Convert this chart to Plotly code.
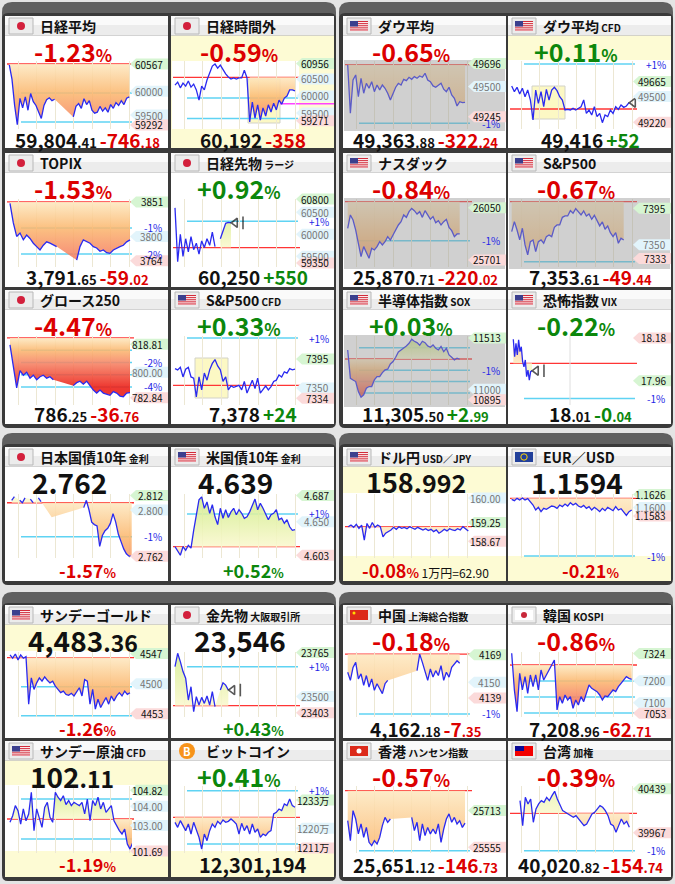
import plotly.graph_objects as go

W, H = 675, 884
FONT = "Noto Sans CJK JP"
RED = "#dc0000"
GREEN = "#0c870c"
LINE = "#2a2af0"

# ---------- intraday series: one value per time slot, None = no trading ----------
nikkei_avg = [60550, 60250, 59700, 59300, 59850, 59650, 59880, 59600, 59950, 59780, 59700, 59560, 59430, 59700,
              59820, 59860, 59800, 59830, None, None, None, None, None, None, 59460, 59680, 59740, 59640, 59840,
              59720, 59800, 59600, 59540, 59560, 59680, 59580, 59650, 59560, 59720, 59640, 59760, 59700, 59800,
              59720, 59850, 59880]
nikkei_night = [60320, 60410, 60240, 60380, 60290, 60440, 60260, 60350, 60180, 59880, 60290, 60180, 60470, 60710,
                60880, 60940, 60820, 60910, 60760, 60650, 60560, 60500, 60530, 60500, 60530, 60530, 60760, 60530,
                59240, 59820, 59350, 59740, 59290, 59650, 59410, 59740, 59530, 59790, 59590, 59880, 59760, 59940,
                60000, 60180, 60180, 60150]
topix = [3849, 3820, 3800, 3805, 3795, 3802, 3797, 3790, 3785, 3780, 3787, 3792, 3790, 3787, 3785, None, None, None,
         None, None, 3765, 3785, 3795, 3792, 3790, 3785, 3783, 3778, 3780, 3776, 3775, 3780, 3783, 3785, 3787, 3792,
         3795]
nikkei_fut = [60600, 59380, 60000, 59500, 59900, 59600, 59950, 59650, 59800, 59550, 59850, 59700, 59900, 59750,
              60050, 59720, None, 59900, 60100, 60250, 60270, 60260]
growth250 = [818.3, 805, 789.5, 801, 798, 800, 796, 798, 795, 797, 798, 796, 797, 795, None, None, None, None, None,
             791, 793, 794, 792, 794, 791, 788, 786, 788, 786, 785, 784.5, 787, 786, 784, 783.5, 786, 786.25]
sp500_cfd = [7380, 7378, 7382, 7367, 7379, 7382, 7367, 7365, 7336, 7367, 7347, 7373, 7362, 7378, 7388, 7394, 7384,
             7378, 7360, 7367, 7347, 7353, 7351, 7352, 7354, 7347, 7360, 7342, 7352, 7362, 7349, 7365, 7342, 7347,
             7353, 7347, 7352, 7360, 7362, 7370, 7367, 7375, 7373, 7380, 7378, 7379]
dow = [49683, 49274, 49556, 49599, 49415, 49571, 49444, 49528, 49486, 49542, 49457, 49514, 49472, 49514, 49486,
       49444, 49387, 49444, 49495, 49528, 49514, 49562, 49551, 49579, 49562, 49585, 49571, 49590, 49579, 49613,
       49556, 49542, 49506, 49495, 49514, 49528, 49478, 49457, 49495, 49429, 49401, 49336, 49372, 49364, 49367]
dow_cfd = [49616, 49554, 49602, 49528, 49591, 49499, 49572, 49463, 49243, 49572, 49426, 49554, 49389, 49580, 49463,
           49572, 49602, 49565, 49499, 49463, 49353, 49360, 49353, 49371, 49353, 49367, 49389, 49463, 49316, 49353,
           49298, 49389, 49280, 49316, 49214, 49298, 49280, 49353, 49316, 49389, 49360, 49408, 49382, 49397, 49433]
nasdaq = [25912, 26002, 25968, 25901, 25812, 25723, 25790, 25756, 25712, 25779, 25768, 25790, 25823, 25801, 25823,
          25857, 25834, 25868, 25901, 25935, 25957, 26002, 25986, 26024, 26046, 26031, 26008, 26024, 25986, 26031,
          26002, 25973, 25991, 25950, 25964, 25935, 25957, 25973, 25919, 25897, 25857, 25875, 25875]
sp500 = [7366.1, 7378.4, 7368.1, 7355.8, 7370.2, 7349.6, 7337.3, 7353.7, 7355.8, 7341.4, 7353.7, 7355.8, 7351.7,
         7359.9, 7362.0, 7359.9, 7371.4, 7374.3, 7374.3, 7383.7, 7385.4, 7385.4, 7392.0, 7388.7, 7394.4, 7391.1,
         7386.6, 7391.6, 7385.4, 7387.9, 7381.3, 7386.2, 7378.8, 7373.1, 7378.0, 7369.0, 7373.1, 7364.8, 7359.9,
         7364.8, 7351.7, 7357.9, 7355.8]
sox = [11393, 11110, 11093, 11077, 10977, 10920, 10944, 11010, 11027, 11027, 11093, 11127, 11127, 11167, 11193,
       11200, 11253, 11277, 11320, 11373, 11393, 11410, 11433, 11460, 11500, 11480, 11466, 11440, 11480, 11466,
       11433, 11420, 11443, 11410, 11393, 11427, 11377, 11410, 11343, 11320, 11293, 11310, 11300]
vix = [18.173, 18.084, 18.152, 18.093, 18.17, 18.11, 18.135, 18.058, 18.032, 18.067, 17.981, 18.015, 17.964, 18.007,
       18.012]
jgb10 = [2.808, 2.811, None, 2.808, 2.806, 2.810, None, 2.809, 2.806, None, 2.810, 2.807, None, None, None, 2.794,
         None, None, None, None, None, None, None, None, None, None, None, 2.802, 2.808, 2.800, 2.790, 2.788, 2.787,
         2.770, 2.779, 2.783, 2.785, 2.789, 2.797, 2.790, 2.780, 2.774, 2.768, 2.764, 2.762, 2.762]
ust10 = [4.615, 4.609, 4.603, 4.615, 4.610, 4.617, 4.613, 4.638, 4.662, 4.681, 4.685, 4.669, 4.678, 4.662, 4.674,
         4.657, 4.646, 4.669, 4.655, 4.667, 4.656, 4.664, 4.669, 4.660, 4.667, 4.662, 4.655, 4.657, 4.664, 4.674,
         4.682, 4.667, 4.676, 4.669, 4.662, 4.653, 4.660, 4.662, 4.667, 4.653, 4.655, 4.648, 4.653, 4.643, 4.638,
         4.639]
usdjpy = [159.12, 159.17, 159.10, 159.19, 159.07, 159.17, 158.71, 159.22, 159.07, 159.25, 159.10, 159.17, 159.12,
          158.81, 158.92, 158.97, 159.02, 159.10, 159.04, 159.12, 159.07, 159.10, 159.06, 159.12, 159.08, 159.04,
          159.10, 159.06, 159.02, 159.06, 159.00, 159.04, 158.97, 159.02, 158.92, 158.97, 159.04, 158.99, 159.06,
          159.02, 159.00, 159.06, 159.02, 159.12, 159.04, 158.99]
eurusd = [1.16163, 1.16136, 1.16183, 1.16150, 1.16190, 1.16150, 1.16177, 1.16116, 1.16049, 1.15948, 1.16002,
          1.15915, 1.15982, 1.15962, 1.16002, 1.16029, 1.16016, 1.15982, 1.16049, 1.16016, 1.16069, 1.16029,
          1.16096, 1.16049, 1.16083, 1.16029, 1.16002, 1.16042, 1.15982, 1.16016, 1.15948, 1.16002, 1.15962,
          1.15915, 1.15982, 1.15935, 1.16002, 1.15962, 1.15935, 1.16016, 1.15948, 1.15975, 1.15895, 1.15841,
          1.15915, 1.15948]
gold_sun = [4544.7, 4539.6, 4546.2, 4537.0, 4544.7, 4539.6, 4542.1, 4468.0, 4508.9, 4491.0, 4501.2, 4508.9, 4503.8,
            4510.4, 4505.3, 4501.2, 4503.8, 4496.1, 4491.0, 4485.9, 4488.4, 4483.3, 4481.8, 4484.9, 4480.8, 4486.9,
            4493.6, 4480.8, 4506.3, 4503.8, 4468.0, 4491.0, 4460.3, 4475.7, 4462.9, 4470.6, 4478.2, 4468.0, 4480.8,
            4473.1, 4480.8, 4485.9, 4480.8, 4488.4, 4483.3, 4485.9]
gold_fut = [23680, 23760, 23710, 23650, 23610, 23479, 23559, 23409, 23499, 23449, 23495, 23459, 23503, 23449, 23529,
            23439, None, 23539, 23583, 23569, 23539]
shanghai = [4156.9, 4151.2, 4160.3, 4163.8, 4152.3, 4155.8, 4147.7, 4154.6, 4146.6, 4152.3, 4144.3, 4148.9, 4145.4,
            4142.0, 4148.9, 4151.2, None, None, None, None, None, None, None, None, None, None, 4158.0, 4169.5,
            4163.8, 4158.0, 4151.2, 4159.2, 4153.5, 4158.0, 4154.6, 4161.5, 4151.2, 4156.9, 4153.5, 4160.3, 4162.6,
            4164.9, 4163.1]
kospi = [7324.7, 7158.3, 7060.0, 7234.0, 7158.3, 7218.8, 7143.2, 7226.4, 7173.4, 7226.4, 7158.3, 7249.1, 7203.7,
         7226.4, 7249.1, 7271.8, 7294.5, 7067.5, 7128.0, 7097.8, 7135.6, 7112.9, 7128.0, 7075.1, 7112.9, 7090.2,
         7128.0, 7105.3, 7143.2, 7181.0, 7165.9, 7158.3, 7150.7, 7135.6, 7112.9, 7131.1, 7128.0, 7143.2, 7158.3,
         7150.7, 7173.4, 7188.6, 7203.7, 7218.8, 7211.2, 7206.7]
oil_sun = [103.17, 103.51, 104.03, 103.77, 103.08, 103.86, 103.25, 103.60, 104.72, 102.74, 103.86, 103.43, 102.91,
           103.94, 104.20, 103.43, 103.17, 104.72, 104.46, 104.29, 104.54, 104.08, 104.29, 104.03, 104.20, 104.11,
           104.03, 104.20, 103.60, 104.37, 103.25, 104.29, 104.03, 104.46, 103.86, 104.20, 103.68, 103.86, 104.03,
           103.25, 103.00, 102.74, 102.57, 102.82, 102.05, 101.79, 102.12]
bitcoin_man = [1222.78, 1220.48, 1223.55, 1221.25, 1218.95, 1222.01, 1217.41, 1222.78, 1218.95, 1215.88, 1210.50,
               1217.41, 1214.34, 1218.95, 1222.01, 1220.48, 1223.24, 1222.01, 1223.86, 1222.78, 1223.24, 1224.32,
               1223.24, 1222.01, 1217.41, 1222.32, 1218.95, 1221.25, 1217.41, 1222.01, 1218.18, 1219.71, 1215.88,
               1217.41, 1216.64, 1218.18, 1218.95, 1226.62, 1227.39, 1228.92, 1228.16, 1231.22, 1230.46, 1233.53,
               1230.46, 1229.69]
hangseng = [25669, 25583, 25712, 25676, 25612, 25655, 25597, 25640, 25576, 25562, 25583, 25569, 25597, 25648, 25683,
            25662, 25676, None, None, None, None, None, None, None, 25683, 25626, 25662, 25583, 25655, 25605, 25640,
            25612, 25633, 25612, 25655, 25576, 25633, 25676, 25698, 25662, 25683, 25655, 25669, 25640, 25658]
taiex = [40311, 40043, 40347, 40276, 40329, 40079, 40222, 40276, 40311, 40293, 40347, 40311, 40365, 40412, 40329,
         40258, 40204, 40186, 40168, 40150, 40132, 40150, 40114, 40089, 40043, 40061, 40114, 40168, 40186, 40222,
         40258, 40240, 40204, 40150, 40061, 40043, 39971, 40043, 40114, 40061, 40089, 40025]

# ---------- price tags on the right edge: (text, value, kind) ----------
nikkei_avg_lbl = [("60567", 60567, "hi"), ("60000", 60000, "tick"), ("59500", 59500, "tick"), ("59292", 59292, "lo")]
nikkei_night_lbl = [("60956", 60956, "hi"), ("60500", 60500, "tick"), ("60000", 60000, "tick"),
                    ("59500", 59500, "tick"), ("59271", 59271, "lo")]
topix_lbl = [("3851", 3851, "hi"), ("-1%", 3812.5, "pct"), ("3800", 3800, "tick"), ("-2%", 3774, "pct"),
             ("3764", 3764, "lo")]
nikkei_fut_lbl = [("60800", 60800, "hi"), ("60500", 60500, "tick"), ("+1%", 60297, "pct"), ("60000", 60000, "tick"),
                  ("59500", 59500, "tick"), ("59350", 59350, "lo")]
growth_lbl = [("818.81", 818.81, "hi"), ("-2%", 806.55, "pct"), ("800.00", 800, "tick"), ("-4%", 790.09, "pct"),
              ("782.84", 782.84, "lo")]
sp500_cfd_lbl = [("+1%", 7427.5, "pct"), ("7395", 7395, "hi"), ("7350", 7350, "tick"), ("7334", 7334, "lo")]
dow_lbl = [("49696", 49696, "hi"), ("49500", 49500, "tick"), ("49245", 49245, "lo"), ("-1%", 49189, "pct")]
dow_cfd_lbl = [("+1%", 49857.6, "pct"), ("49665", 49665, "hi"), ("49500", 49500, "tick"), ("49220", 49220, "lo")]
nasdaq_lbl = [("26050", 26050, "hi"), ("-1%", 25829.8, "pct"), ("25701", 25701, "lo")]
sp500_lbl = [("7395", 7395, "hi"), ("7350", 7350, "tick"), ("7333", 7333, "lo")]
sox_lbl = [("11513", 11513, "hi"), ("-1%", 11189.5, "pct"), ("11000", 11000, "tick"), ("10895", 10895, "lo")]
vix_lbl = [("18.18", 18.18, "lo"), ("17.96", 17.96, "hi"), ("-1%", 17.87, "pct")]
jgb_lbl = [("2.812", 2.812, "hi"), ("2.800", 2.800, "tick"), ("-1%", 2.778, "pct"), ("2.762", 2.762, "lo")]
ust_lbl = [("4.687", 4.687, "hi"), ("+1%", 4.661, "pct"), ("4.650", 4.650, "tick"), ("4.603", 4.603, "lo")]
usdjpy_lbl = [("160.00", 160.0, "tick"), ("159.25", 159.25, "hi"), ("158.67", 158.67, "lo")]
eurusd_lbl = [("1.1626", 1.1626, "hi"), ("1.1600", 1.1600, "tick"), ("1.1583", 1.1583, "lo"), ("-1%", 1.1502, "pct")]
gold_sun_lbl = [("4547", 4547, "hi"), ("4500", 4500, "tick"), ("4453", 4453, "lo")]
gold_fut_lbl = [("23765", 23765, "hi"), ("+1%", 23679.5, "pct"), ("23500", 23500, "tick"), ("23403", 23403, "lo")]
shanghai_lbl = [("4169", 4169, "hi"), ("4150", 4150, "tick"), ("4139", 4139, "lo"), ("-1%", 4127.8, "pct")]
kospi_lbl = [("7324", 7324, "hi"), ("7200", 7200, "tick"), ("7100", 7100, "tick"), ("7053", 7053, "lo")]
oil_sun_lbl = [("104.82", 104.82, "hi"), ("104.00", 104.0, "tick"), ("103.00", 103.0, "tick"),
               ("101.69", 101.69, "lo")]
bitcoin_lbl = [("+1%", 1237.4, "pct"), ("1233万", 1233, "hi"), ("1220万", 1220, "tick"), ("1211万", 1211, "lo")]
hangseng_lbl = [("25713", 25713, "hi"), ("25555", 25555, "lo")]
taiex_lbl = [("40439", 40439, "hi"), ("39967", 39967, "lo"), ("-1%", 39773.8, "pct")]

# ---------- page geometry (pixels) ----------
COLS = [5, 171, 343, 508]
ROW_TOP = [16, 153, 290, 447, 605, 741]
ROW_BOT = [148, 287, 424, 581, 738, 877]
CHART_Y = [(61, 129), (199, 267), (336, 405), (494, 558), (652, 717), (786, 853)]
PW = 163
YELLOW = "#fdfbd4"
TAG = {"hi": "#d6f5d2", "lo": "#fbdada", "tick": "#e2f4fb"}

FILL_SCALE = [
    [0.0, "rgba(236,34,26,0.9)"],
    [0.25, "rgba(246,134,102,0.88)"],
    [0.375, "rgba(251,184,112,0.88)"],
    [0.499, "rgba(253,232,192,0.88)"],
    [0.501, "rgba(250,248,206,0.88)"],
    [0.625, "rgba(222,240,160,0.88)"],
    [1.0, "rgba(150,205,70,0.9)"],
]


def X(px):
    return px / W


def Y(py):
    return 1 - py / H


shapes = []
annos = []


def box(x0, y0, x1, y1, fill, line=None, layer="below"):
    shapes.append(dict(type="rect", xref="paper", yref="paper", x0=X(x0), x1=X(x1), y0=Y(y1), y1=Y(y0),
                       fillcolor=fill, line=dict(color=line or fill, width=1 if line else 0), layer=layer))


def disc(cx, cy, r, fill, line=None, layer="below"):
    shapes.append(dict(type="circle", xref="paper", yref="paper", x0=X(cx - r), x1=X(cx + r), y0=Y(cy + r),
                       y1=Y(cy - r), fillcolor=fill, line=dict(color=line or fill, width=1 if line else 0),
                       layer=layer))


def rounded(x0, y0, x1, y1, r, fill):
    path = (f"M{X(x0 + r)},{Y(y0)} L{X(x1 - r)},{Y(y0)} Q{X(x1)},{Y(y0)} {X(x1)},{Y(y0 + r)} "
            f"L{X(x1)},{Y(y1 - r)} Q{X(x1)},{Y(y1)} {X(x1 - r)},{Y(y1)} L{X(x0 + r)},{Y(y1)} "
            f"Q{X(x0)},{Y(y1)} {X(x0)},{Y(y1 - r)} L{X(x0)},{Y(y0 + r)} Q{X(x0)},{Y(y0)} {X(x0 + r)},{Y(y0)} Z")
    shapes.append(dict(type="path", xref="paper", yref="paper", path=path, fillcolor=fill,
                       line=dict(width=0), layer="below"))


def text(x, y, s, size=14, color="#111111", anchor="center", weight="bold"):
    annos.append(dict(x=X(x), y=Y(y), xref="paper", yref="paper", text=s, showarrow=False, xanchor=anchor,
                      yanchor="middle", font=dict(family=FONT, size=size, color=color, weight=weight)))


def span(t, size, color="#111111", style=""):
    return f'<span style="font-size:{size}px;color:{color}{style}">{t}</span>'


def pct(v, color, big=25, small=17):
    return span(v, big, color) + span("%", small, color)


def price_chg(i, d, ci, cd, color, big=19, small=13):
    s = span(i, big) + (span(d, small) if d else "") + span(" ", small)
    return s + span(ci, big, color) + (span(cd, small, color) if cd else "")


def flag(kind, x0, T):
    if kind == "btc":
        disc(x0 + 16, T + 10, 8, "#f7931a")
        text(x0 + 16, T + 10, "B", 11, "#ffffff")
        return
    box(x0 + 4, T + 2, x0 + 28, T + 18, "#ececec", "#b8b8b8")
    fx0, fy0, fx1, fy1 = x0 + 7, T + 5, x0 + 25, T + 15
    if kind == "jp":
        disc(x0 + 16, T + 10, 4, "#d3203c")
    elif kind == "us":
        box(fx0, fy0, fx1, fy1, "#ffffff")
        for k in range(5):
            box(fx0, fy0 + k * 2.1, fx1, fy0 + k * 2.1 + 1.1, "#d22b3a")
        box(fx0, fy0, fx0 + 8, fy0 + 5.5, "#3b3f8e")
    elif kind == "cn":
        box(fx0, fy0, fx1, fy1, "#dc2a1a")
        disc(fx0 + 4, fy0 + 3, 1.5, "#ffde00")
    elif kind == "eu":
        box(fx0, fy0, fx1, fy1, "#22409a")
        disc(x0 + 16, T + 10, 3.2, "rgba(0,0,0,0)", "#ffd500")
    elif kind == "kr":
        box(fx0, fy0, fx1, fy1, "#ffffff")
        disc(x0 + 16, T + 10, 3, "#c8283a")
    elif kind == "hk":
        box(fx0, fy0, fx1, fy1, "#dc2a1a")
        disc(x0 + 16, T + 10, 2.5, "#ffffff")
    elif kind == "tw":
        box(fx0, fy0, fx1, fy1, "#f20000")
        box(fx0, fy0, fx0 + 9, fy0 + 5, "#0a0a96")


def P(c, r, flag_kind, title, sub, vals, labels, start, prev, rng, levels, top, bottom, **kw):
    d = dict(c=c, r=r, flag=flag_kind, title=title, sub=sub, vals=vals, labels=labels, start=start, prev=prev,
             rng=rng, levels=levels, top=top, bottom=bottom, step=8 / 3, fill_from=0, marker=False,
             overlay=False, yellow=(), boxes=(), extra=(), vline=None, invert=False, top_x=68, bot_x=82,
             grid=True, white_chart=False)
    d.update(kw)
    return d


panels = [
    P(0, 0, "jp", "日経平均", "", nikkei_avg, nikkei_avg_lbl, 4.3, 60567, (59208, 60630), [-1, -2],
      pct("-1.23", RED), price_chg("59,804", ".41", "-746", ".18", RED)),
    P(1, 0, "jp", "日経時間外", "", nikkei_night, nikkei_night_lbl, 4, 60550, (59030, 61029), [-1, -2],
      pct("-0.59", RED), price_chg("60,192", "", "-358", "", RED), fill_from=28, marker=True,
      yellow=("body",), white_chart=True, boxes=((77, 109, 63, 107),), extra=((59770, 109, 163, "#ff44ff"),)),
    P(0, 1, "jp", "TOPIX", "", topix, topix_lbl, 5, 3851, (3754.8, 3855.4), [-1, -2],
      pct("-1.53", RED), price_chg("3,791", ".65", "-59", ".02", RED), step=10 / 3),
    P(1, 1, "jp", "日経先物", "ラージ", nikkei_fut, nikkei_fut_lbl, 4, 59700, (59258, 60802), [1],
      pct("+0.92", GREEN), price_chg("60,250", "", "+550", "", GREEN), fill_from=17, marker=True),
    P(0, 2, "jp", "グロース250", "", growth250, growth_lbl, 5, 823.01, (778.0, 824.3), [-1, -2, -3, -4],
      pct("-4.47", RED), price_chg("786", ".25", "-36", ".76", RED), step=10 / 3),
    P(1, 2, "us", "S&amp;P500", "CFD", sp500_cfd, sp500_cfd_lbl, 4, 7354, (7323.4, 7430.6), [1],
      pct("+0.33", GREEN), price_chg("7,378", "", "+24", "", GREEN), fill_from=None, marker=True,
      boxes=((24, 57, 68, 108),)),
    P(2, 0, "us", "ダウ平均", "", dow, dow_lbl, 4.7, 49686, (49141, 49717), [-1],
      pct("-0.65", RED), price_chg("49,363", ".88", "-322", ".24", RED), overlay=True),
    P(3, 0, "us", "ダウ平均", "CFD", dow_cfd, dow_cfd_lbl, 3.7, 49364, (49144.6, 49890.6), [1],
      pct("+0.11", GREEN), price_chg("49,416", "", "+52", "", GREEN), fill_from=None, marker=True,
      yellow=("top",), boxes=((24, 57, 70, 103),)),
    P(2, 1, "us", "ナスダック", "", nasdaq, nasdaq_lbl, 4.7, 26090.7, (25653.8, 26108.8), [-1],
      pct("-0.84", RED), price_chg("25,870", ".71", "-220", ".02", RED), overlay=True),
    P(3, 1, "us", "S&amp;P500", "", sp500, sp500_lbl, 3.7, 7403, (7322.4, 7406.3), [-1],
      pct("-0.67", RED), price_chg("7,353", ".61", "-49", ".44", RED), overlay=True),
    P(2, 2, "us", "半導体指数", "SOX", sox, sox_lbl, 4.7, 11302.5, (10842.5, 11532.5), [1, -1, -2, -3],
      pct("+0.03", GREEN), price_chg("11,305", ".50", "+2", ".99", GREEN), overlay=True),
    P(3, 2, "us", "恐怖指数", "VIX", vix, vix_lbl, 5.3, 18.05, (17.836, 18.19), [-1],
      pct("-0.22", GREEN), price_chg("18", ".01", "-0", ".04", GREEN), step=4 / 3, invert=True,
      marker=True, grid=False, vline=62),
    P(0, 3, "jp", "日本国債10年", "金利", jgb10, jgb_lbl, 6.7, 2.806, (2.7605, 2.8132), [-1],
      span("2.762", 28), pct("-1.57", RED, 18, 13), marker=True, top_x=64),
    P(1, 3, "us", "米国債10年", "金利", ust10, ust_lbl, 4, 4.615, (4.5991, 4.6891), [1],
      span("4.639", 28), pct("+0.52", GREEN, 18, 13), marker=True, top_x=64),
    P(2, 3, "us", "ドル円", "USD／JPY", usdjpy, usdjpy_lbl, 5.3, 159.12, (158.159, 160.124), [],
      span("158", 27) + span(".992", 25), pct("-0.08", RED, 18, 13) + span(" 1万円=62.90", 12, "#111111",
                                                                          ";font-weight:normal"),
      marker=True, yellow=("top", "bottom"), top_x=73),
    P(3, 3, "eu", "EUR／USD", "", eurusd, eurusd_lbl, 3.7, 1.16184, (1.14982, 1.16271), [-1],
      span("1.1594", 28), pct("-0.21", RED, 18, 13), marker=True, yellow=("bottom",), top_x=69),
    P(0, 4, "us", "サンデーゴールド", "", gold_sun, gold_sun_lbl, 5, 4540.6, (4448.0, 4549.3), [-1, -2],
      span("4,483", 28) + span(".36", 23), pct("-1.26", RED, 18, 13), marker=True, yellow=("top",), top_x=78),
    P(1, 4, "jp", "金先物", "大阪取引所", gold_fut, gold_fut_lbl, 4, 23445, (23377.1, 23767.7), [1],
      span("23,546", 28), pct("+0.43", GREEN, 18, 13), marker=True, top_x=69),
    P(2, 4, "cn", "中国", "上海総合指数", shanghai, shanghai_lbl, 4.7, 4169.5, (4125.7, 4171.0), [-1],
      pct("-0.18", RED), price_chg("4,162", ".18", "-7", ".35", RED)),
    P(3, 4, "kr", "韓国", "KOSPI", kospi, kospi_lbl, 3.7, 7271.67, (7035.6, 7330.7), [-1, -2, -3],
      pct("-0.86", RED), price_chg("7,208", ".96", "-62", ".71", RED)),
    P(0, 5, "us", "サンデー原油", "CFD", oil_sun, oil_sun_lbl, 5, 103.34, (101.59, 105.04), [1, -1],
      span("102", 28) + span(".11", 23), pct("-1.19", RED, 18, 13), marker=True, yellow=("top", "bottom"),
      top_x=67),
    P(1, 5, "btc", "ビットコイン", "", bitcoin_man, bitcoin_lbl, 4, 1225.1, (1208.66, 1239.5), [1, -1],
      pct("+0.41", GREEN), span("12,301,194", 20), marker=True, yellow=("bottom",)),
    P(2, 5, "hk", "香港", "ハンセン指数", hangseng, hangseng_lbl, 4.7, 25797.85, (25530, 25818), [-1],
      pct("-0.57", RED), price_chg("25,651", ".12", "-146", ".73", RED)),
    P(3, 5, "tw", "台湾", "加権", taiex, taiex_lbl, 12, 40175.56, (39749, 40468.8), [-1],
      pct("-0.39", RED), price_chg("40,020", ".82", "-154", ".74", RED)),
]

# ---------- dark frames ----------
for cx0, cx1 in [(2, 336), (339, 673)]:
    for cy0, cy1 in [(2, 428), (433, 585), (592, 881)]:
        rounded(cx0, cy0, cx1, cy1, 10, "#606060")
        rounded(cx0, cy0 + 11, cx1, cy1, 6, "#3a3a3a")

fig = go.Figure()
axes = {}

for i, p in enumerate(panels, start=1):
    x0 = COLS[p["c"]]
    T, B = ROW_TOP[p["r"]], ROW_BOT[p["r"]]
    cy0, cy1 = CHART_Y[p["r"]]
    lo, hi = p["rng"]
    prev = p["prev"]
    xa, ya = ("x", "y") if i == 1 else (f"x{i}", f"y{i}")
    step = p["step"]
    xmin = -(p["start"] - 3) / step
    xmax = xmin + 124 / step

    # panel body and header
    box(x0, T, x0 + PW, B, "#ffffff")
    if "body" in p["yellow"]:
        box(x0, T + 18, x0 + PW, B, YELLOW)
    if "top" in p["yellow"]:
        box(x0, T + 18, x0 + PW, cy0 - 1, YELLOW)
    if "bottom" in p["yellow"]:
        box(x0, cy1 - 2, x0 + PW, B, YELLOW)
    if p["white_chart"]:
        box(x0 + 1, cy0, x0 + 128, cy1, "#ffffff")
    for bx0, bx1, by0, by1 in p["boxes"]:
        box(x0 + bx0, T + by0, x0 + bx1, T + by1, "#fcf8c4", "#d2d2c8")
    box(x0, T, x0 + PW, T + 19, "#ececec")
    box(x0, T, x0 + PW, T + 9, "#fafafa")
    box(x0, T + 19, x0 + PW, T + 19.8, "#c4c4c4")
    flag(p["flag"], x0, T)
    title = p["title"] + (span(" " + p["sub"], 10) if p["sub"] else "")
    text(x0 + 33, T + 10, title, 14, "#111111", "left")

    axes[f"xaxis{i}"] = dict(domain=[X(x0 + 3), X(x0 + 127)], range=[xmin, xmax], anchor=ya,
                             showticklabels=False, ticks="", zeroline=False, showline=False,
                             showgrid=p["grid"], gridcolor="#ece7d3", gridwidth=1,
                             dtick=18.5 / step, tick0=xmin + 10 / step, fixedrange=True)
    axes[f"yaxis{i}"] = dict(domain=[Y(cy1), Y(cy0)], range=[lo, hi], anchor=xa, showticklabels=False,
                             ticks="", zeroline=False, showline=False, showgrid=False, fixedrange=True)

    # reference lines: previous close in red, percentage levels in cyan
    shapes.append(dict(type="line", xref="paper", yref=ya, x0=X(x0 + 2), x1=X(x0 + 129), y0=prev, y1=prev,
                       line=dict(color="#ff3535", width=1.3), layer="between"))
    for lv in p["levels"]:
        v = prev * (1 + lv / 100)
        shapes.append(dict(type="line", xref="paper", yref=ya, x0=X(x0 + 16), x1=X(x0 + 127), y0=v, y1=v,
                           line=dict(color="#5fd3f3", width=1.5), layer="between"))
    for v, rx0, rx1, col in p["extra"]:
        shapes.append(dict(type="line", xref="paper", yref=ya, x0=X(x0 + rx0), x1=X(x0 + rx1), y0=v, y1=v,
                           line=dict(color=col, width=1.5), layer="between"))
    if p["vline"] is not None:
        shapes.append(dict(type="line", xref="paper", yref="paper", x0=X(x0 + p["vline"]), x1=X(x0 + p["vline"]),
                           y0=Y(cy1), y1=Y(cy0), line=dict(color="#dedede", width=1), layer="between"))

    vals = p["vals"]
    pts = [(k, v) for k, v in enumerate(vals) if v is not None]
    if p["fill_from"] is not None:
        fp = [(k, v) for k, v in pts if k >= p["fill_from"]]
        scale = FILL_SCALE
        if p["invert"]:
            scale = [[1 - s, c] for s, c in reversed(FILL_SCALE)]
        fig.add_trace(go.Scatter(x=[fp[0][0], fp[-1][0]], y=[prev, prev], mode="lines", line=dict(width=0),
                                 xaxis=xa, yaxis=ya, hoverinfo="skip", showlegend=False))
        fig.add_trace(go.Scatter(x=[k for k, _ in fp], y=[v for _, v in fp], mode="lines", line=dict(width=0),
                                 fill="tonexty",
                                 fillgradient=dict(type="vertical", colorscale=scale,
                                                   start=prev * 0.96, stop=prev * 1.04),
                                 xaxis=xa, yaxis=ya, hoverinfo="skip", showlegend=False))
    fig.add_trace(go.Scatter(x=list(range(len(vals))), y=vals, mode="lines", connectgaps=False,
                             line=dict(color=LINE, width=1.3), xaxis=xa, yaxis=ya, hoverinfo="skip",
                             showlegend=False))
    if p["marker"]:
        k, v = pts[-1]
        fig.add_trace(go.Scatter(x=[k + 1.6 / step * 2.667, k + 4.5 / step * 2.667], y=[v, v], mode="markers",
                                 marker=dict(symbol=["triangle-left-open", "line-ns-open"], size=[8, 9],
                                             color="#111111", line=dict(width=1.6, color="#111111")),
                                 cliponaxis=False, xaxis=xa, yaxis=ya, hoverinfo="skip", showlegend=False))

    if p["overlay"]:
        box(x0 + 1, cy0 - 1, x0 + PW - 1, cy1 + 2, "rgba(150,150,150,0.45)", layer="above")

    # price tags
    for t, v, kind in p["labels"]:
        if kind == "pct":
            annos.append(dict(x=X(x0 + 148), y=v, xref="paper", yref=ya, text=t, showarrow=False,
                              xanchor="center", yanchor="middle",
                              font=dict(family=FONT, size=10, color="#2424e6")))
            continue
        py = cy0 + (hi - v) / (hi - lo) * (cy1 - cy0)
        path = (f"M{X(x0 + 125)},{Y(py)} L{X(x0 + 131)},{Y(py - 5.5)} L{X(x0 + PW)},{Y(py - 5.5)} "
                f"L{X(x0 + PW)},{Y(py + 5.5)} L{X(x0 + 131)},{Y(py + 5.5)} Z")
        shapes.append(dict(type="path", xref="paper", yref="paper", path=path, fillcolor=TAG[kind],
                           line=dict(width=0), layer="above"))
        annos.append(dict(x=X(x0 + 160), y=v, xref="paper", yref=ya, text=t, showarrow=False,
                          xanchor="right", yanchor="middle",
                          font=dict(family=FONT, size=10, color="#777777" if kind == "tick" else "#111111")))

    # big figures
    text(x0 + p["top_x"], T + 35, p["top"], 16)
    text(x0 + p["bot_x"], T + 123, p["bottom"], 14)

fig.update_layout(width=W, height=H, margin=dict(l=0, r=0, t=0, b=0), paper_bgcolor="#e4e4e4",
                  plot_bgcolor="rgba(0,0,0,0)", showlegend=False, hovermode=False,
                  shapes=shapes, annotations=annos, **axes)
fig.write_html("out.html", config={"displayModeBar": False},
               post_script="document.body.style.margin='0';document.body.style.overflow='hidden';")
